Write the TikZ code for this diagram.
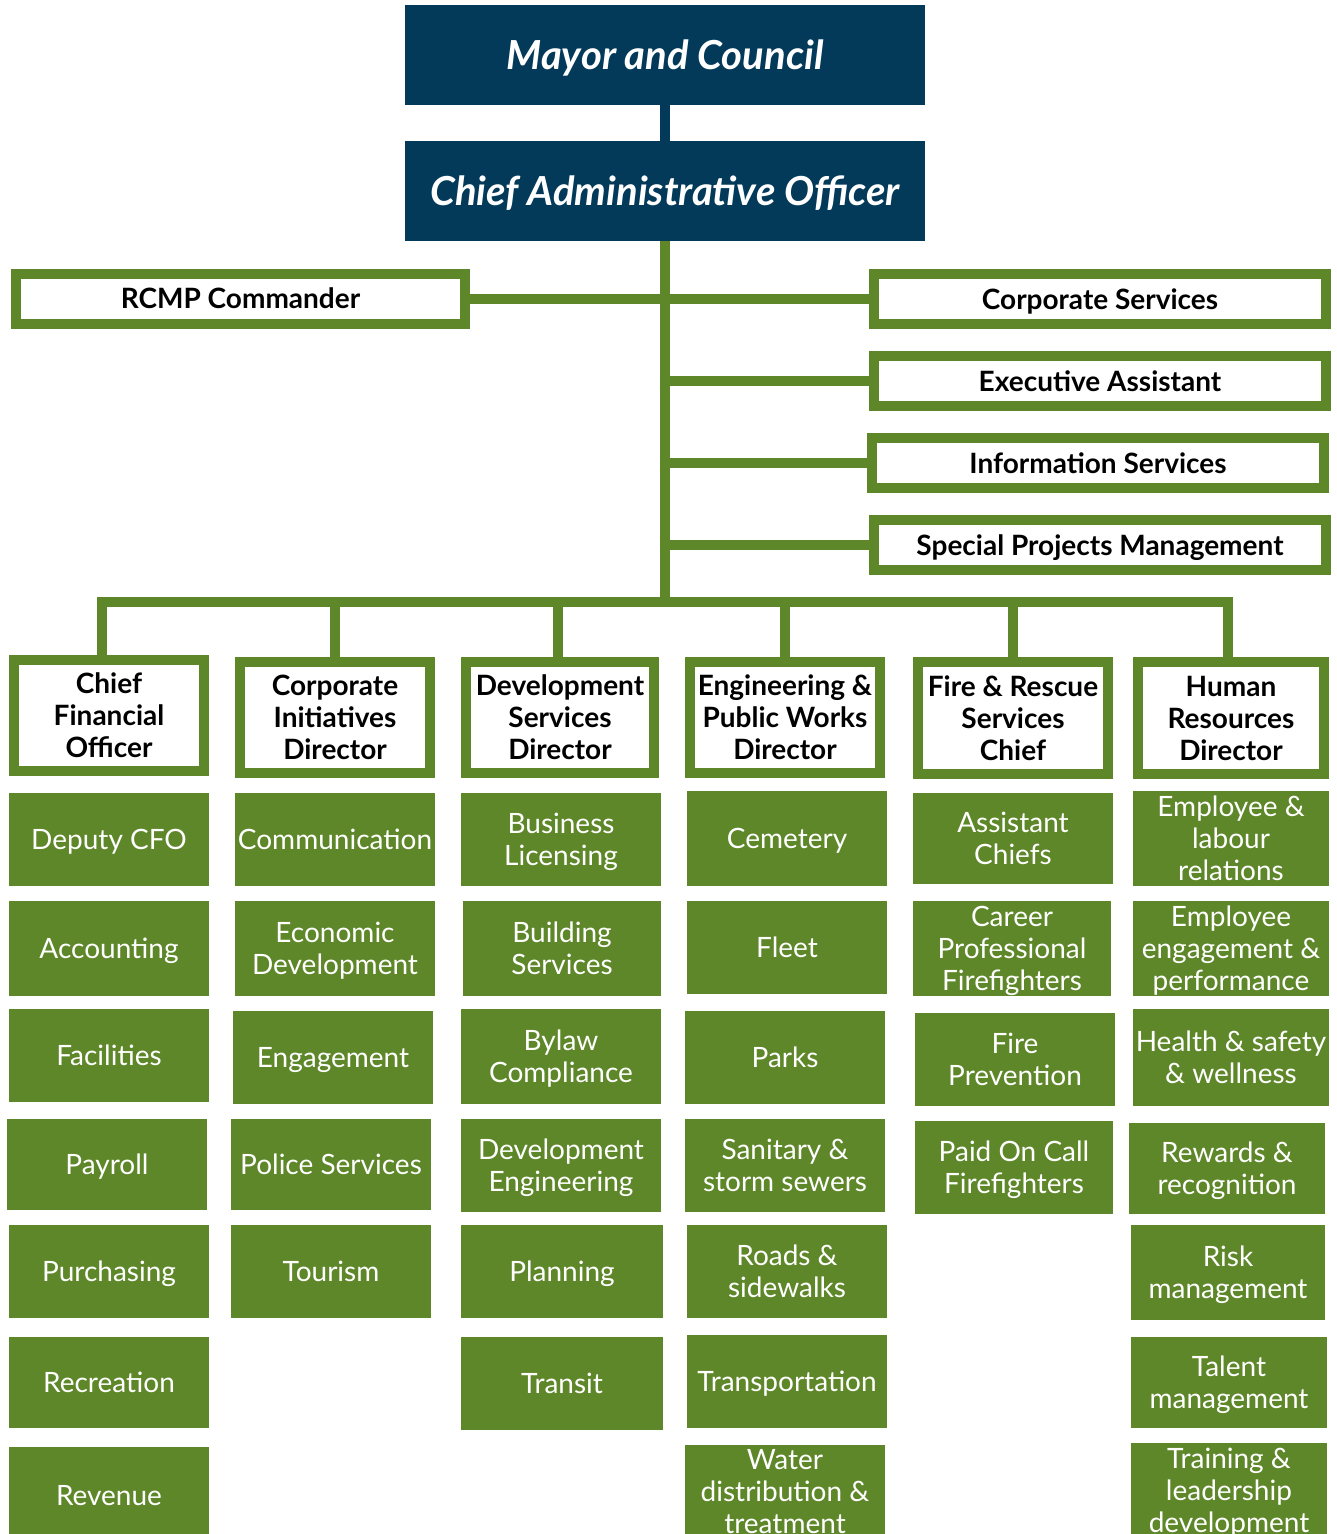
\documentclass[tikz,border=0pt]{standalone}
\usepackage{fontspec}
\setmainfont{Lato}
\usepackage{xcolor}
\usepackage{tikz}

\definecolor{cityblue}{HTML}{033A59}
\definecolor{citygreen}{HTML}{5E8729}

\begin{document}
\begin{tikzpicture}[x=1pt, y=-1pt]
        % Define styles
        \tikzset{
            head/.style={rectangle, fill=cityblue, text=white, inner sep=0pt, text depth=0pt, minimum width=520pt, minimum height=100pt, font=\fontsize{40}{46}\selectfont\bfseries\itshape},
            unit/.style={rectangle, draw=citygreen, line width=10pt, fill=white, inner sep=0pt, text depth=0pt, minimum height=50pt, font=\fontsize{28}{32}\selectfont\bfseries},
            director/.style={rectangle, draw=citygreen, line width=10pt, fill=white, inner sep=0pt, minimum height=111pt, align=center, font=\fontsize{28}{32}\selectfont\bfseries},
            service/.style={rectangle, fill=citygreen, text=white, inner sep=0pt, text depth=0pt, align=center, font=\fontsize{28}{32}\selectfont},
            link/.style={draw=citygreen, line width=10pt},
            toplink/.style={draw=cityblue, line width=10pt}
        }
        \clip (0,0) rectangle (1336,1534);
        \fill[white] (0,0) rectangle (1336,1534);

        % Nodes
        \node[head] (mayor) at (665,55) {Mayor and Council};
        \node[head] (cao) at (665,191) {Chief Administrative Officer};
        \node[unit, minimum width=449pt] (rcmp) at (240.5,298.5) {RCMP Commander};
        \node[unit, minimum width=452pt] (corp) at (1100,299) {Corporate Services};
        \node[unit, minimum width=452pt] (exec) at (1100,381) {Executive Assistant};
        \node[unit, minimum width=452pt] (info) at (1098,463) {Information Services};
        \node[unit, minimum width=452pt] (spm) at (1100,545) {Special Projects Management};
        \coordinate (bar) at (665,602);

        \node[director, minimum width=190pt] (cfo) at (109,715.5) {Chief\\Financial\\Officer};
        \node[director, minimum width=190pt] (cid) at (335,717.5) {Corporate\\Initiatives\\Director};
        \node[director, minimum width=188pt] (dsd) at (560,717.5) {Development\\Services\\Director};
        \node[director, minimum width=190pt] (epw) at (785,717.5) {Engineering \&\\Public Works\\Director};
        \node[director, minimum width=190pt, minimum height=112pt] (fire) at (1013,718) {Fire \& Rescue\\Services\\Chief};
        \node[director, minimum width=186pt, minimum height=112pt] (hrd) at (1231,718) {Human\\Resources\\Director};

        % finance
        \node[service, minimum width=200pt, minimum height=93pt] (dcfo) at (109,839.5) {Deputy CFO};
        \node[service, minimum width=200pt, minimum height=95pt] (acct) at (109,948.5) {Accounting};
        \node[service, minimum width=200pt, minimum height=93pt] (fac) at (109,1055.5) {Facilities};
        \node[service, minimum width=200pt, minimum height=91pt] (pay) at (107,1164.5) {Payroll};
        \node[service, minimum width=200pt, minimum height=93pt] (purch) at (109,1271.5) {Purchasing};
        \node[service, minimum width=200pt, minimum height=91pt] (rec) at (109,1382.5) {Recreation};
        \node[service, minimum width=200pt, minimum height=96pt] (rev) at (109,1495) {Revenue};

        % corporate initiatives
        \node[service, minimum width=200pt, minimum height=93pt] (comm) at (335,839.5) {Communication};
        \node[service, minimum width=200pt, minimum height=95pt] (econ) at (335,948.5) {Economic\\Development};
        \node[service, minimum width=200pt, minimum height=93pt] (engage) at (333,1057.5) {Engagement};
        \node[service, minimum width=200pt, minimum height=91pt] (police) at (331,1164.5) {Police Services};
        \node[service, minimum width=200pt, minimum height=93pt] (tour) at (331,1271.5) {Tourism};

        % development services
        \node[service, minimum width=200pt, minimum height=93pt] (blic) at (561,839.5) {Business\\Licensing};
        \node[service, minimum width=198pt, minimum height=95pt] (bserv) at (562,948.5) {Building\\Services};
        \node[service, minimum width=200pt, minimum height=95pt] (bylaw) at (561,1056.5) {Bylaw\\Compliance};
        \node[service, minimum width=200pt, minimum height=93pt] (deveng) at (561,1165.5) {Development\\Engineering};
        \node[service, minimum width=202pt, minimum height=93pt] (plan) at (562,1271.5) {Planning};
        \node[service, minimum width=202pt, minimum height=93pt] (transit) at (562,1383.5) {Transit};

        % engineering and public works
        \node[service, minimum width=200pt, minimum height=95pt] (cem) at (787,838.5) {Cemetery};
        \node[service, minimum width=200pt, minimum height=93pt] (fleet) at (787,947.5) {Fleet};
        \node[service, minimum width=200pt, minimum height=93pt] (parks) at (785,1057.5) {Parks};
        \node[service, minimum width=200pt, minimum height=93pt] (sewer) at (785,1165.5) {Sanitary \&\\storm sewers};
        \node[service, minimum width=200pt, minimum height=93pt] (roads) at (787,1271.5) {Roads \&\\sidewalks};
        \node[service, minimum width=200pt, minimum height=93pt] (transp) at (787,1381.5) {Transportation};
        \node[service, minimum width=200pt, minimum height=92pt] (water) at (785,1491) {Water\\distribution \&\\treatment};

        % fire and rescue
        \node[service, minimum width=200pt, minimum height=91pt] (achief) at (1013,838.5) {Assistant\\Chiefs};
        \node[service, minimum width=198pt, minimum height=95pt] (career) at (1012,948.5) {Career\\Professional\\Firefighters};
        \node[service, minimum width=200pt, minimum height=93pt] (fprev) at (1015,1059.5) {Fire\\Prevention};
        \node[service, minimum width=198pt, minimum height=93pt] (paid) at (1014,1167.5) {Paid On Call\\Firefighters};

        % human resources
        \node[service, minimum width=196pt, minimum height=95pt] (labour) at (1231,838.5) {Employee \&\\labour\\relations};
        \node[service, minimum width=196pt, minimum height=95pt] (perf) at (1231,948.5) {Employee\\engagement \&\\performance};
        \node[service, minimum width=196pt, minimum height=97pt] (health) at (1231,1057.5) {Health \& safety\\\& wellness};
        \node[service, minimum width=196pt, minimum height=91pt] (reward) at (1227,1168.5) {Rewards \&\\recognition};
        \node[service, minimum width=194pt, minimum height=95pt] (risk) at (1228,1272.5) {Risk\\management};
        \node[service, minimum width=196pt, minimum height=91pt] (talent) at (1229,1382.5) {Talent\\management};
        \node[service, minimum width=196pt, minimum height=94pt] (train) at (1229,1490) {Training \&\\leadership\\development};

        % Lines
        \draw[toplink] (mayor) -- (cao);
        \draw[link] (cao) -- (bar);
        \draw[link] (rcmp) -- (rcmp -| bar);
        \draw[link] (corp) -- (corp -| bar);
        \draw[link] (exec) -- (exec -| bar);
        \draw[link] (info) -- (info -| bar);
        \draw[link] (spm) -- (spm -| bar);
        \draw[link] ([xshift=-7pt]cfo.north) -- ([xshift=-7pt]cfo.north |- bar) -- ([xshift=-3pt]hrd.north |- bar) -- ([xshift=-3pt]hrd.north);
        \draw[link] (cid.north) -- (cid.north |- bar);
        \draw[link] ([xshift=-2pt]dsd.north) -- ([xshift=-2pt]dsd.north |- bar);
        \draw[link] (epw.north) -- (epw.north |- bar);
        \draw[link] (fire.north) -- (fire.north |- bar);
\end{tikzpicture}
\end{document}
